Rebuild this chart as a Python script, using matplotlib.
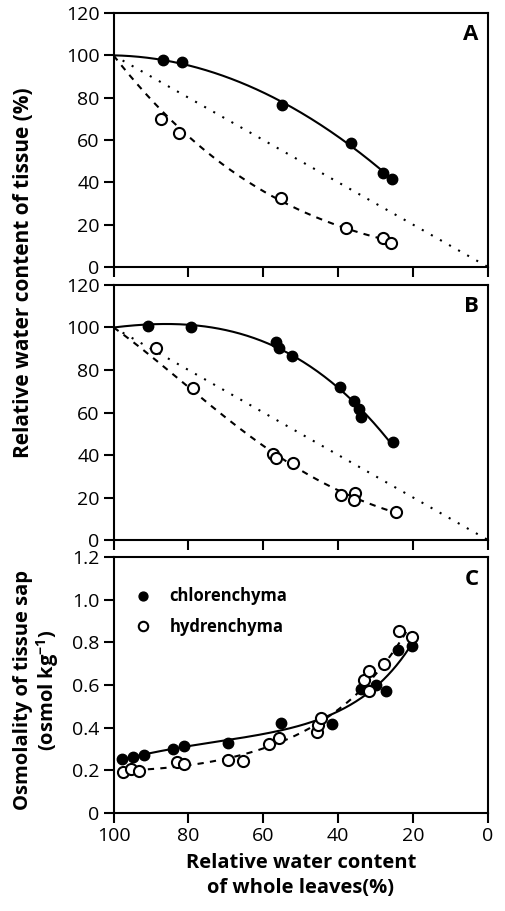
import numpy as np
import matplotlib
matplotlib.use("Agg")
import matplotlib.pyplot as plt

plt.rcParams['font.family'] = ['Open Sans', 'DejaVu Sans']
plt.rcParams['mathtext.fontset'] = 'custom'
plt.rcParams['mathtext.rm'] = 'Open Sans'
plt.rcParams['mathtext.bf'] = 'Open Sans:bold'

# ---------------- data ----------------
anchor = (100, 100)
diag_x = [100, 0]
diag_y = [100, 0]

# Panel A
a_chl_x = [86.9, 81.6, 54.9, 36.7, 28.0, 25.6]
a_chl_y = [97.9, 96.9, 76.4, 58.8, 44.2, 41.7]
a_hyd_x = [87.3, 82.4, 55.4, 37.8, 28.0, 26.0]
a_hyd_y = [69.8, 63.5, 32.8, 18.5, 13.9, 11.4]

# Panel B
b_chl_x = [90.8, 79.3, 56.6, 55.9, 52.4, 39.6, 35.8, 34.5, 33.9, 25.3]
b_chl_y = [100.7, 100.1, 93.2, 90.5, 86.6, 72.0, 65.3, 61.5, 57.9, 46.1]
b_hyd_x = [88.7, 78.8, 57.3, 56.7, 52.0, 39.2, 35.6, 35.7, 24.7]
b_hyd_y = [90.4, 71.5, 40.6, 38.7, 36.1, 21.0, 22.0, 18.8, 13.2]

# Panel C
c_chl_x = [97.8, 94.8, 91.8, 84.0, 81.2, 69.5, 55.4, 41.7, 34.0, 29.8, 27.3, 24.0, 20.2]
c_chl_y = [0.254, 0.263, 0.270, 0.299, 0.316, 0.327, 0.424, 0.418, 0.581, 0.598, 0.573, 0.762, 0.785]
c_hyd_x = [97.5, 95.3, 93.1, 83.1, 81.3, 69.3, 65.5, 58.4, 55.7, 45.6, 45.3, 44.7,
           33.2, 31.8, 31.8, 27.8, 23.7, 20.4]
c_hyd_y = [0.192, 0.206, 0.195, 0.237, 0.231, 0.246, 0.243, 0.324, 0.352, 0.380, 0.411, 0.446,
           0.623, 0.665, 0.573, 0.698, 0.854, 0.823]

x_ticks = [100, 80, 60, 40, 20, 0]
rwc_ticks = [0, 20, 40, 60, 80, 100, 120]
osm_ticks = [0, 0.2, 0.4, 0.6, 0.8, 1.0, 1.2]
osm_labels = ['0', '0.2', '0.4', '0.6', '0.8', '1.0', '1.2']

# ---------------- figure ----------------
fig = plt.figure(figsize=(5.05, 9.11), dpi=100)
left, width = 0.2248, 0.7416
axA = fig.add_axes([left, 0.7069, width, 0.2788])
axB = fig.add_axes([left, 0.4072, width, 0.2800])
axC = fig.add_axes([left, 0.1076, width, 0.2810])

LW = 1.5
ms = 7.5
TICK_FS = 14


def fit_curve(xs, ys, deg, with_anchor=True, xend=None, log=False):
    xs = list(xs)
    ys = list(ys)
    w = [1.0] * len(xs)
    if with_anchor:
        xs = [anchor[0]] + xs
        ys = [anchor[1]] + ys
        w = [10.0] + w
    yv = np.log(ys) if log else np.asarray(ys)
    p = np.polyfit(xs, yv, deg, w=w)
    lo = min(xs) if xend is None else xend
    xx = np.linspace(max(xs), lo, 200)
    yy = np.polyval(p, xx)
    return xx, (np.exp(yy) if log else yy)


def style(ax):
    ax.set_xlim(100, 0)
    ax.set_xticks(x_ticks)
    for s in ax.spines.values():
        s.set_linewidth(1.5)
    ax.tick_params(direction='out', length=7, width=1.5, labelsize=TICK_FS, pad=3)
    ax.tick_params(axis='y', right=False)


for ax, chx, chy, hx, hy, dc, lab in [
        (axA, a_chl_x, a_chl_y, a_hyd_x, a_hyd_y, 2, 'A'),
        (axB, b_chl_x, b_chl_y, b_hyd_x, b_hyd_y, 3, 'B')]:
    ax.plot(diag_x, diag_y, color='black', lw=1.5, linestyle=(0, (1, 4)))
    xx, yy = fit_curve(chx, chy, dc)
    ax.plot(xx, yy, color='black', lw=LW)
    xx, yy = fit_curve(hx, hy, 2, log=True)
    ax.plot(xx, yy, color='black', lw=LW, linestyle=(0, (3, 3)))
    ax.plot(chx, chy, 'o', color='black', ms=ms, zorder=5)
    ax.plot(hx, hy, 'o', mfc='white', mec='black', mew=1.5, ms=ms + 0.5, zorder=5)
    ax.set_ylim(0, 120)
    ax.set_yticks(rwc_ticks)
    style(ax)
    ax.set_xticklabels([])
    ax.text(0.975, 0.955, lab, transform=ax.transAxes, ha='right', va='top',
            fontsize=16, fontweight='bold')

# Panel C
xx, yy = fit_curve(c_chl_x, c_chl_y, 3, with_anchor=False, xend=21, log=True)
axC.plot(xx, yy, color='black', lw=LW)
xx, yy = fit_curve(c_hyd_x, c_hyd_y, 3, with_anchor=False, xend=21, log=True)
axC.plot(xx, yy, color='black', lw=LW, linestyle=(0, (3, 3)))
axC.plot(c_chl_x, c_chl_y, 'o', color='black', ms=ms, zorder=5, label='chlorenchyma')
axC.plot(c_hyd_x, c_hyd_y, 'o', mfc='white', mec='black', mew=1.5, ms=ms + 0.5, zorder=5,
         label='hydrenchyma')
axC.set_ylim(0, 1.2)
axC.set_yticks(osm_ticks)
axC.set_yticklabels(osm_labels)
style(axC)
axC.set_xticklabels([str(t) for t in x_ticks])
axC.text(0.975, 0.955, 'C', transform=axC.transAxes, ha='right', va='top',
         fontsize=16, fontweight='bold')
leg = axC.legend(loc='upper left', bbox_to_anchor=(0.02, 0.94), frameon=False,
                 handlelength=0.8, handletextpad=1.2, labelspacing=0.75,
                 prop={'weight': 'bold', 'size': 12}, markerscale=0.85)

axC.set_xlabel('Relative water content\nof whole leaves(%)', fontsize=14.5,
               fontweight='bold', labelpad=6, linespacing=1.3)

fig.text(24 / 505, 1 - 273 / 911, 'Relative water content of tissue (%)',
         rotation=90, ha='center', va='center', fontsize=15, fontweight='bold')
fig.text(37 / 505, 1 - 690 / 911,
         'Osmolality of tissue sap\n(osmol kg$^{\\mathbf{-1}}$)',
         rotation=90, ha='center', va='center', fontsize=14.5, fontweight='bold',
         multialignment='center', linespacing=1.1)

fig.savefig('out.png', dpi=100)
